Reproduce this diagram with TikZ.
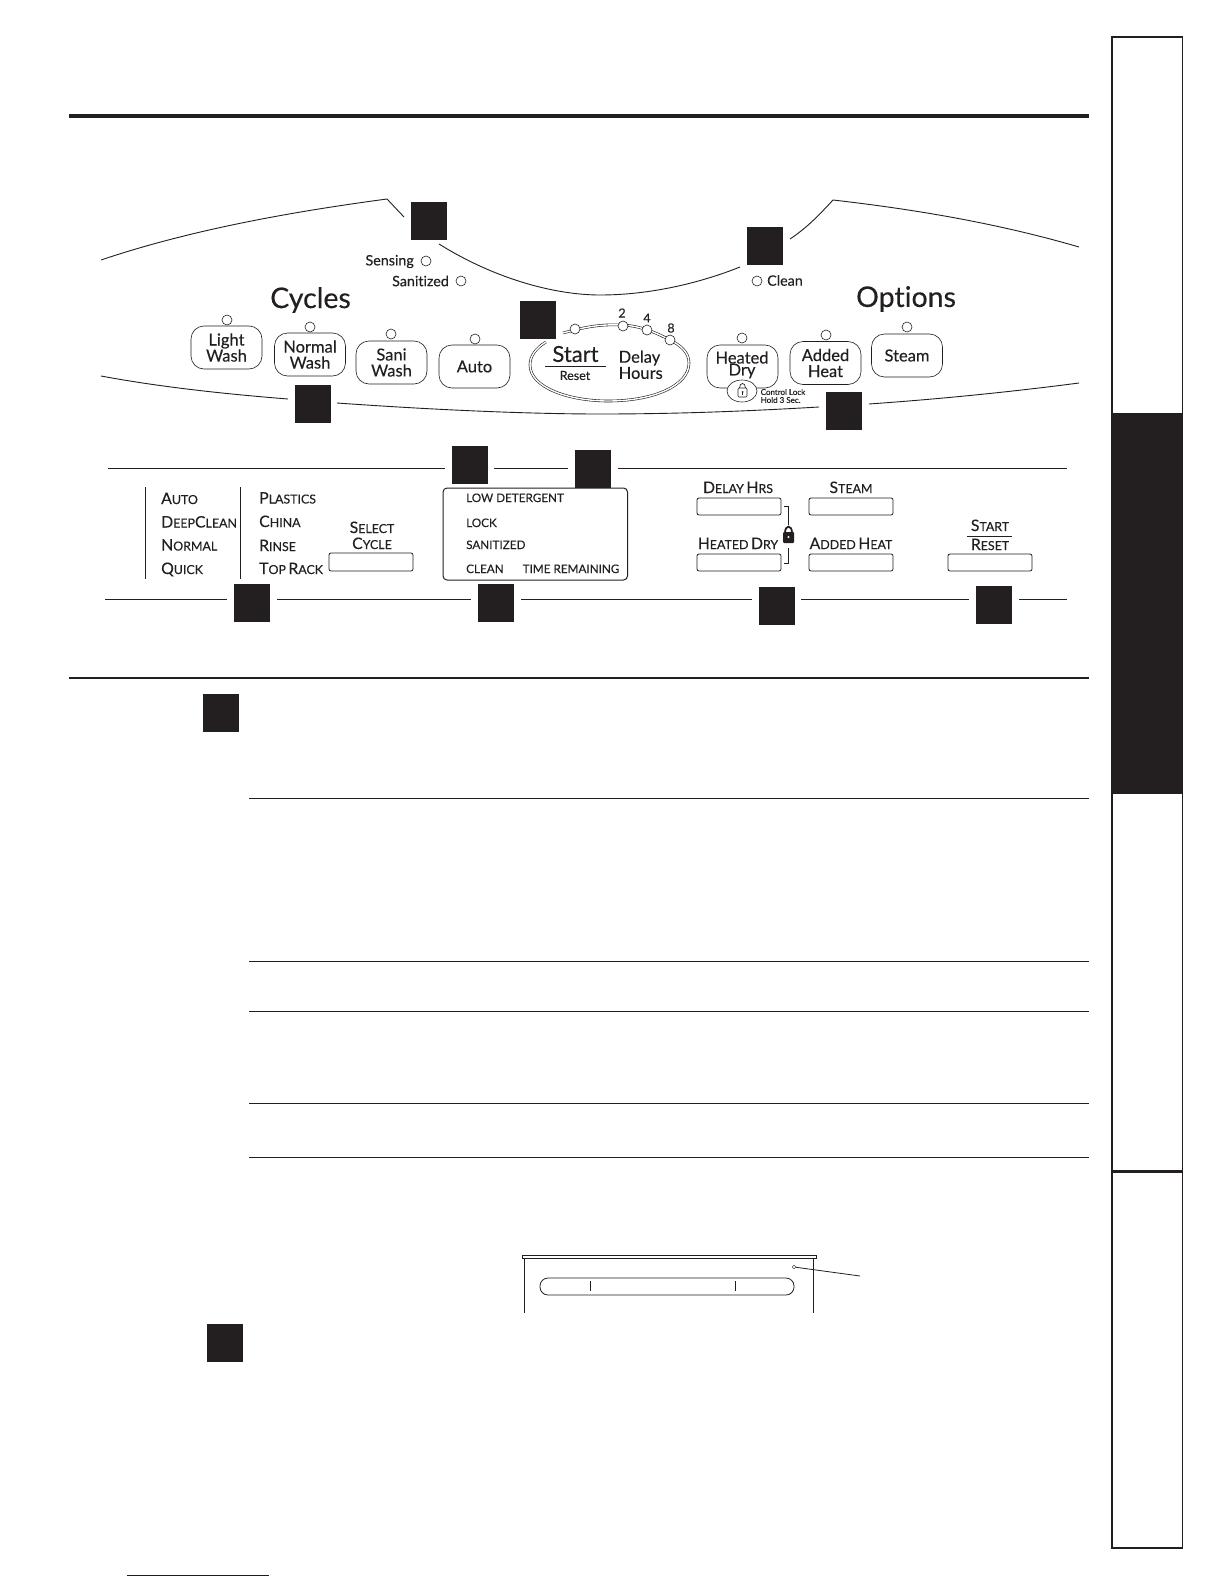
\documentclass[tikz,border=0pt]{standalone}
\usepackage{fontspec}
\usetikzlibrary{shapes.geometric}
\setmainfont{Lato}
\newfontfamily\pan[FakeBold=0.25,Ligatures=NoCommon]{Lato}
\newfontfamily\lab[FakeBold=0.1,Ligatures=NoCommon]{Lato}
\newcommand{\fs}[1]{\fontsize{#1}{#1}\selectfont}
\newcommand{\SCap}[2]{{\lab\fs{15.8}#1}{\lab\fs{12.4}#2}}
\definecolor{ink}{HTML}{231F20}
\definecolor{footblue}{HTML}{0C0C96}
\tikzset{
  x=1pt,y=-1pt,
  every node/.style={text=ink},
  sq/.style={fill=ink,draw=none,inner sep=0pt,minimum width=36pt,minimum height=38pt},
  thin rule/.style={draw=ink,line width=0.9pt},
  panel/.style={draw=ink,line width=0.9pt},
  led/.style={circle,draw=ink,fill=white,line width=0.6pt,inner sep=0pt,minimum size=10pt},
  btn/.style={draw=ink,line width=0.6pt,rounded corners=13pt,minimum width=71pt,minimum height=43pt,inner sep=0pt,align=center,font=\pan\fs{16.5}},
  key/.style={draw=ink,line width=0.8pt,rounded corners=2pt,minimum width=84pt,minimum height=17pt,inner sep=0pt},
  sclab/.style={inner sep=0pt,anchor=base west},
  sccen/.style={inner sep=0pt,anchor=base},
  disp/.style={inner sep=0pt,anchor=base west,font=\lab\fs{11.7}},
  panlab/.style={inner sep=0pt,font=\pan\fs{14.3}},
}
\begin{document}
\begin{tikzpicture}
\useasboundingbox (0,0) rectangle (1224,1584);
\fill[white] (0,0) rectangle (1224,1584);

% page rules
\draw[ink,line width=4pt] (69,116) -- (1089,116);
\draw[ink,line width=2pt] (69,678) -- (1089,678);
\foreach \yy in {798,961.5,1011,1103,1157}{\draw[thin rule] (249,\yy) -- (1089,\yy);}

% side tabs
\fill[ink] (1112,413) rectangle (1182.5,793.5);
\draw[ink,line width=2pt] (1112,36) -- (1112,1548);
\draw[ink,line width=1.4pt] (1182.5,36) -- (1182.5,1548);
\draw[ink,line width=2pt] (1111,37) -- (1183,37);
\draw[ink,line width=1.4pt] (1111,1548) -- (1183,1548);
\draw[ink,line width=3pt] (1112,1171) -- (1182.5,1171);

% panel outline
\draw[panel] (101,260) .. controls (190,230) and (290,212) .. (387,199) -- (404,217);
\draw[panel] (439,244) .. controls (500,282) and (560,295) .. (600,295) .. controls (650,295) and (700,283) .. (740,267);
\draw[panel] (790,239) .. controls (808,227) and (820,214) .. (833,200) .. controls (920,210) and (1000,224) .. (1079,247);
\draw[panel] (101,376) .. controls (160,387) and (225,394) .. (288,399);
\draw[panel] (337,403) .. controls (450,411) and (540,414) .. (600,414) .. controls (680,414) and (750,411) .. (819,407);
\draw[panel] (869,404) .. controls (940,399) and (1010,392) .. (1079,383);

% panel labels
\node[panlab,anchor=east] (tsens) at (414,261.5) {Sensing};
\node[led] (lsens) at (426,261) {};
\node[panlab,anchor=east] (tsan) at (449,281) {Sanitized};
\node[led] (lsan) at (461,281) {};
\node[led] (lclean) at (757,281) {};
\node[panlab,anchor=west] (tclean) at (767,280.5) {Clean};
\node[inner sep=0pt,font=\pan\fs{28.5}] (cycles) at (310.5,300) {Cycles};
\node[inner sep=0pt,font=\pan\fs{28.5}] (options) at (906,299) {Options};

% cycle buttons
\node[btn] (b1) at (226.5,347.5) {Light\\[-0.5pt]Wash};
\node[led] (l1) at (227,320) {};
\node[btn] (b2) at (310,354.5) {Normal\\[-0.5pt]Wash};
\node[led] (l2) at (310,327) {};
\node[btn] (b3) at (391.5,362.5) {Sani\\[-0.5pt]Wash};
\node[led] (l3) at (391,334) {};
\node[btn] (b4) at (474.5,366.5) {Auto};
\node[led] (l4) at (475,339) {};

% start / delay oval
\draw[ink,line width=0.6pt,double=white,double distance=1.4pt]
 (546,342) .. controls (536,348) and (530,356) .. (530,365)
 .. controls (530,388) and (570,401) .. (608,401)
 .. controls (655,401) and (689,385) .. (689,363)
 .. controls (689,352) and (680,345) .. (670,340)
 .. controls (655,332) and (640,326) .. (623,325)
 .. controls (600,324) and (585,327) .. (563,333);
\node[led] (d0) at (575,329) {};
\node[led] (d2) at (623,326) {};
\node[led] (d4) at (647,330) {};
\node[led] (d8) at (670,340) {};
\node[inner sep=0pt,font=\pan\fs{12.5}] (n2) at (622,313) {2};
\node[inner sep=0pt,font=\pan\fs{12.5}] (n4) at (647,318) {4};
\node[inner sep=0pt,font=\pan\fs{12.5}] (n8) at (671,328) {8};
\node[inner sep=0pt,font=\pan\fs{22}] (tstart) at (575.5,354) {Start};
\draw[ink,line width=0.9pt] (545,366) -- (606,366);
\node[inner sep=0pt,font=\pan\fs{12.5}] (treset) at (575,375.5) {Reset};
\node[inner sep=0pt,anchor=west,font=\pan\fs{16.5}] (tdelay) at (618.5,358) {Delay};
\node[inner sep=0pt,anchor=west,font=\pan\fs{16.5}] (thours) at (618.5,373) {Hours};

% option buttons
\node[btn] (b5) at (742.5,366.5) {};
\node[inner sep=0pt,font=\pan\fs{16.5}] (theat) at (742,357.5) {Heated};
\node[inner sep=0pt,font=\pan\fs{16.5}] (tdry) at (742,371) {Dry};
\node[led] (l5) at (742,338) {};
\node[draw=ink,fill=white,ellipse,line width=0.6pt,minimum width=30pt,minimum height=22pt,inner sep=0pt] (lockov) at (742,391) {};
\draw[ink,line width=0.6pt,rounded corners=1pt] (738,388) rectangle (747,397);
\draw[ink,line width=0.7pt] (739.5,388) .. controls (739.5,382) and (745.5,382) .. (745.5,388);
\fill[ink] (742.5,392) circle (1pt);
\draw[ink,line width=0.6pt] (742.5,392) -- (742.5,395);
\node[inner sep=0pt,anchor=west,font=\pan\fs{8}] (tctrl) at (760.5,392) {Control Lock};
\node[inner sep=0pt,anchor=west,font=\pan\fs{8}] (thold) at (760.5,400) {Hold 3 Sec.};
\node[btn] (b6) at (825.5,363) {Added\\[-0.5pt]Heat};
\node[led] (l6) at (826,335) {};
\node[btn] (b7) at (907,355.5) {Steam};
\node[led] (l7) at (907,327) {};

% lower panel rules
\draw[thin rule] (108,468) -- (445,468);
\draw[thin rule] (494,468) -- (568,468);
\draw[thin rule] (618,468) -- (1067,468);
\draw[thin rule] (105,599) -- (227,599);
\draw[thin rule] (277,599) -- (471,599);
\draw[thin rule] (521,599) -- (752,599);
\draw[thin rule] (801,599) -- (969,599);
\draw[thin rule] (1019,599) -- (1067,599);

% cycle list
\draw[ink,line width=0.9pt] (145,487) -- (145,579);
\draw[ink,line width=0.9pt] (240,487) -- (240,579);
\node[sclab] (c1) at (161,504) {\SCap{A}{UTO}};
\node[sclab] (c2) at (161,527.5) {\SCap{D}{EEP}\SCap{C}{LEAN}};
\node[sclab] (c3) at (161,550.5) {\SCap{N}{ORMAL}};
\node[sclab] (c4) at (161,574) {\SCap{Q}{UICK}};
\node[sclab] (c5) at (259,503.5) {\SCap{P}{LASTICS}};
\node[sclab] (c6) at (259,527) {\SCap{C}{HINA}};
\node[sclab] (c7) at (259,551) {\SCap{R}{INSE}};
\node[sclab] (c8) at (259,574) {\SCap{T}{OP} \SCap{R}{ACK}};
\node[sccen] (c9) at (372,533) {\SCap{S}{ELECT}};
\node[sccen] (c10) at (372,549) {\SCap{C}{YCLE}};
\node[key,minimum width=84pt,minimum height=18pt] (kcycle) at (371,562) {};

% display
\draw[ink,line width=1pt,rounded corners=4pt] (443,488) rectangle (627.5,580);
\node[disp] (e1) at (466,502) {LOW DETERGENT};
\node[disp] (e2) at (466,527) {LOCK};
\node[disp] (e3) at (466,549) {SANITIZED};
\node[disp] (e4) at (466,573) {CLEAN};
\node[disp] (e5) at (522.5,573) {TIME REMAINING};

% keys
\node[sccen] (k1) at (738,493) {\SCap{D}{ELAY} \SCap{H}{RS}};
\node[key] (k1b) at (739,506.5) {};
\node[sccen] (k2) at (851,493) {\SCap{S}{TEAM}};
\node[key] (k2b) at (851,506.5) {};
\node[sccen] (k3) at (738,549) {\SCap{H}{EATED} \SCap{D}{RY}};
\node[key] (k3b) at (739,562.5) {};
\node[sccen] (k4) at (851,549) {\SCap{A}{DDED} \SCap{H}{EAT}};
\node[key] (k4b) at (851,562.5) {};
\node[sccen] (k5) at (990,531) {\SCap{S}{TART}};
\draw[ink,line width=0.9pt] (967,536) -- (1012,536);
\node[sccen] (k6) at (990,550) {\SCap{R}{ESET}};
\node[key] (k5b) at (990,562.5) {};
\draw[ink,line width=0.9pt] (784,506) -- (788,506) -- (788,525);
\draw[ink,line width=0.9pt] (788,548) -- (788,563) -- (784,563);
\fill[ink,rounded corners=1pt] (783,532) rectangle (794,543);
\draw[ink,line width=1.8pt] (785,533) .. controls (785,524.5) and (792,524.5) .. (792,533);
\fill[white] (788.5,537) circle (1.2pt);

% bottom sketch
\draw[ink,line width=0.9pt] (522,1255) rectangle (816,1258);
\draw[ink,line width=0.8pt] (524,1258) -- (524,1313);
\draw[ink,line width=0.8pt] (813,1258) -- (813,1313);
\draw[ink,line width=0.8pt,rounded corners=8pt] (540,1278) rectangle (794,1295);
\draw[ink,line width=0.8pt] (590,1281) -- (590,1291);
\draw[ink,line width=0.8pt] (735,1281) -- (735,1291);
\node[diamond,draw=ink,line width=0.4pt,inner sep=0pt,minimum size=4pt,aspect=1] (diam) at (794,1267) {};
\coordinate (callout) at (860,1276);
\draw[ink,line width=0.8pt] (diam) -- (callout);

% black squares
\node[sq] (s1) at (429,221) {};
\node[sq] (s2) at (765,246) {};
\node[sq] (s3) at (538,320) {};
\node[sq] (s4) at (313,404) {};
\node[sq] (s5) at (844,411) {};
\node[sq] (s6) at (470,465) {};
\node[sq] (s7) at (593,469) {};
\node[sq] (s8) at (252,603) {};
\node[sq] (s9) at (496,603) {};
\node[sq] (s10) at (777,606) {};
\node[sq] (s11) at (994,605) {};
\node[sq] (s12) at (221,713) {};
\node[sq] (s13) at (225,1343) {};

% footer rule
\draw[footblue,line width=1pt] (127,1575) -- (269,1575);
\end{tikzpicture}
\end{document}
